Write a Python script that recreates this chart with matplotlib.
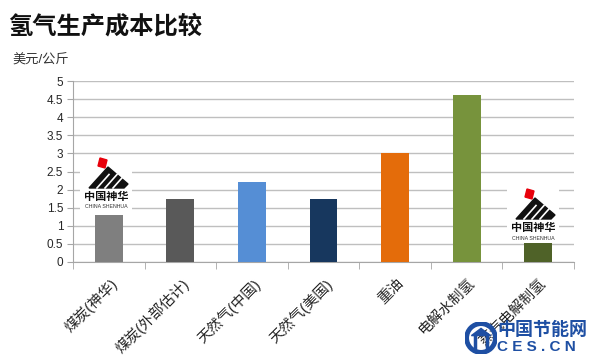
import matplotlib
matplotlib.use("Agg")
import matplotlib.pyplot as plt
import matplotlib.transforms as mtransforms
from matplotlib.patches import Polygon, Circle
import numpy as np

plt.rcParams['font.family'] = ['Liberation Sans', 'Noto Sans CJK SC', 'DejaVu Sans']

categories = ["煤炭(神华)", "煤炭(外部估计)", "天然气(中国)", "天然气(美国)", "重油", "电解水制氢", "蒸汽电解制氢"]
values = [1.31, 1.75, 2.2, 1.74, 3.0, 4.6, 0.6]
colors = ["#7F7F7F", "#595959", "#558ED5", "#17375E", "#E46C0A", "#77933C", "#4F6228"]
yticks = [0, 0.5, 1, 1.5, 2, 2.5, 3, 3.5, 4, 4.5, 5]
ytick_labels = ["0", "0.5", "1", "1.5", "2", "2.5", "3", "3.5", "4", "4.5", "5"]
title = "氢气生产成本比较"
unit = "美元/公斤"

W, H = 591, 355
fig = plt.figure(figsize=(W / 100, H / 100), dpi=100)
ax = fig.add_axes([73 / W, 1 - 262 / H, (574 - 73) / W, (262 - 81) / H])
ax.set_zorder(1)

x = np.arange(len(categories))
ax.bar(x, values, width=0.39, color=colors, zorder=3)

ax.set_xlim(-0.5, len(categories) - 0.5)
ax.set_ylim(0, 5)
ax.set_yticks(yticks)
ax.set_yticklabels(ytick_labels, fontsize=8.5, color="#262626")
ax.yaxis.grid(True, color="#BFBFBF", linewidth=1, zorder=0)
ax.tick_params(axis='y', length=4, color="#A6A6A6", pad=3)

ax.set_xticks(np.arange(len(categories) + 1) - 0.5, minor=True)
ax.set_xticks(x)
ax.tick_params(axis='x', which='major', length=0, pad=0)
ax.tick_params(axis='x', which='minor', length=5, color="#A6A6A6")
labels = ax.set_xticklabels(categories, rotation=45, ha='right', va='top',
                            rotation_mode='anchor', fontsize=10.5, color="#262626",
                            fontweight='medium')
offset = mtransforms.ScaledTranslation(0.01, -0.14, fig.dpi_scale_trans)
for lab in labels:
    lab.set_transform(lab.get_transform() + offset)

for s in ['top', 'right']:
    ax.spines[s].set_visible(False)
ax.spines['left'].set_color("#A6A6A6")
ax.spines['bottom'].set_color("#A6A6A6")

fig.text(8 / W, 1 - 27 / H, title, fontsize=17.5, fontweight='bold', va='center', ha='left', color="#111111")
fig.text(12 / W, 1 - 60 / H, unit, fontsize=9.5, va='center', ha='left', color="#333333")


# decorative logos (image overlays in the reference)
def logo(x0, y0):
    lw, lh = 52, 57
    la = fig.add_axes([x0 / W, 1 - (y0 + lh) / H, lw / W, lh / H])
    la.set_zorder(5)
    la.set_xlim(0, lw)
    la.set_ylim(lh, 0)
    la.set_facecolor("white")
    for s in la.spines.values():
        s.set_visible(False)
    la.set_xticks([])
    la.set_yticks([])
    la.add_patch(Polygon([[20, 3], [27, 5], [25, 13], [18, 11]], closed=True, color="#E8000B"))
    la.add_patch(Polygon([[28, 12], [48, 29], [44, 33], [9, 33]], closed=True, color="#111111"))
    for sx in (17, 25, 33):
        la.plot([sx, sx + 12], [33, 19.5], color="white", lw=1.2)
    la.text(26, 42, "中国神华", fontsize=8, fontweight='bold', ha='center', va='center', color="#111111")
    la.text(26, 52, "CHINA SHENHUA", fontsize=3.8, ha='center', va='center', color="#333333")


logo(80, 155)
logo(507, 186)

# watermark
wm_ax = fig.add_axes([465 / W, 1 - 355 / H, 32 / W, 34 / H])
wm_ax.set_zorder(6)
wm_ax.set_xlim(-1, 1)
wm_ax.set_ylim(-1, 1)
wm_ax.axis('off')
wm_ax.set_aspect('equal')
wm_ax.add_patch(Circle((0, 0), 0.9, fill=False, lw=3.5, ec="#1E4FA3"))
wm_ax.add_patch(Polygon([[-0.6, 0.15], [0, 0.6], [0.6, 0.15]], closed=True, color="#1E4FA3"))
wm_ax.plot([-0.35, -0.35], [0.15, -0.6], color="#1E4FA3", lw=2.5)
wm_ax.plot([0.35, 0.35], [0.15, -0.6], color="#1E4FA3", lw=2.5)
fig.text(497 / W, 1 - 330 / H, "中国节能网", fontsize=13, fontweight='bold', color="#1E4FA3",
         ha='left', va='center', zorder=7)
fig.text(497 / W, 1 - 347 / H, "C E S . C N", fontsize=11, fontweight='bold', color="#1E4FA3",
         ha='left', va='center', zorder=7)

fig.savefig("out.png", dpi=100)
